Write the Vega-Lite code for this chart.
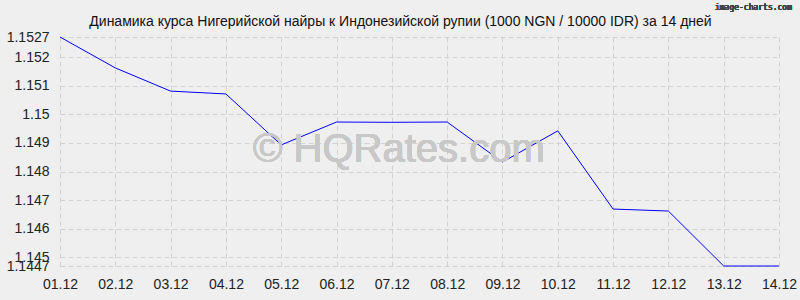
{
  "$schema": "https://vega.github.io/schema/vega-lite/v6.json",
  "width": 719,
  "height": 229,
  "autosize": {"type": "none"},
  "padding": {"left": 60, "top": 37, "right": 21, "bottom": 34},
  "background": "#efefef",
  "config": {
    "view": {"stroke": null},
    "font": "Liberation Sans",
    "axis": {
      "labelFont": "Liberation Sans",
      "labelFontSize": 14,
      "labelColor": "#222222",
      "grid": true,
      "gridColor": "#d2d2d2",
      "gridDash": [5, 3],
      "gridWidth": 1,
      "domain": false,
      "ticks": false
    }
  },
  "title": {
    "text": "Динамика курса Нигерийской найры к Индонезийской рупии (1000 NGN / 10000 IDR) за 14 дней",
    "font": "Liberation Sans",
    "fontSize": 14,
    "fontWeight": "normal",
    "color": "#111111",
    "anchor": "middle",
    "dx": -19,
    "offset": -25
  },
  "data": {
    "values": [
      {"date": "01.12", "rate": 1.1527},
      {"date": "02.12", "rate": 1.15162},
      {"date": "03.12", "rate": 1.15081},
      {"date": "04.12", "rate": 1.15071},
      {"date": "05.12", "rate": 1.14893},
      {"date": "06.12", "rate": 1.14973},
      {"date": "07.12", "rate": 1.14972},
      {"date": "08.12", "rate": 1.14973},
      {"date": "09.12", "rate": 1.14833},
      {"date": "10.12", "rate": 1.14942},
      {"date": "11.12", "rate": 1.14669},
      {"date": "12.12", "rate": 1.14662},
      {"date": "13.12", "rate": 1.1447},
      {"date": "14.12", "rate": 1.1447}
    ]
  },
  "layer": [
    {
      "mark": {"type": "line", "color": "#0000ff", "strokeWidth": 1},
      "encoding": {
        "x": {
          "field": "date",
          "type": "ordinal",
          "sort": null,
          "scale": {"type": "point", "padding": 0},
          "axis": {"title": null, "labelAngle": 0, "labelPadding": 11}
        },
        "y": {
          "field": "rate",
          "type": "quantitative",
          "scale": {"domain": [1.1447, 1.1527], "zero": false, "nice": false},
          "axis": {
            "title": null,
            "values": [1.1447, 1.145, 1.146, 1.147, 1.148, 1.149, 1.15, 1.151, 1.152, 1.1527],
            "tickCount": 50,
            "labelExpr": "datum.value == 1.15 ? '1.15' : format(datum.value, '.4~f')",
            "labelOverlap": false,
            "labelFlush": false,
            "labelPadding": 11
          }
        }
      }
    },
    {
      "mark": {"type": "text", "fontSize": 40, "color": "#c8c8c8", "opacity": 0.8, "font": "Liberation Sans", "dx": 7},
      "encoding": {
        "x": {"datum": "07.12"},
        "y": {"datum": 1.14875},
        "text": {"value": "© HQRates.com"}
      }
    },
    {
      "mark": {"type": "text", "fontSize": 8, "color": "#444444", "font": "DejaVu Sans Mono", "align": "right", "dx": 13, "clip": false},
      "encoding": {
        "x": {"datum": "14.12"},
        "y": {"datum": 1.15371},
        "text": {"value": "image-charts.com"}
      }
    }
  ]
}
